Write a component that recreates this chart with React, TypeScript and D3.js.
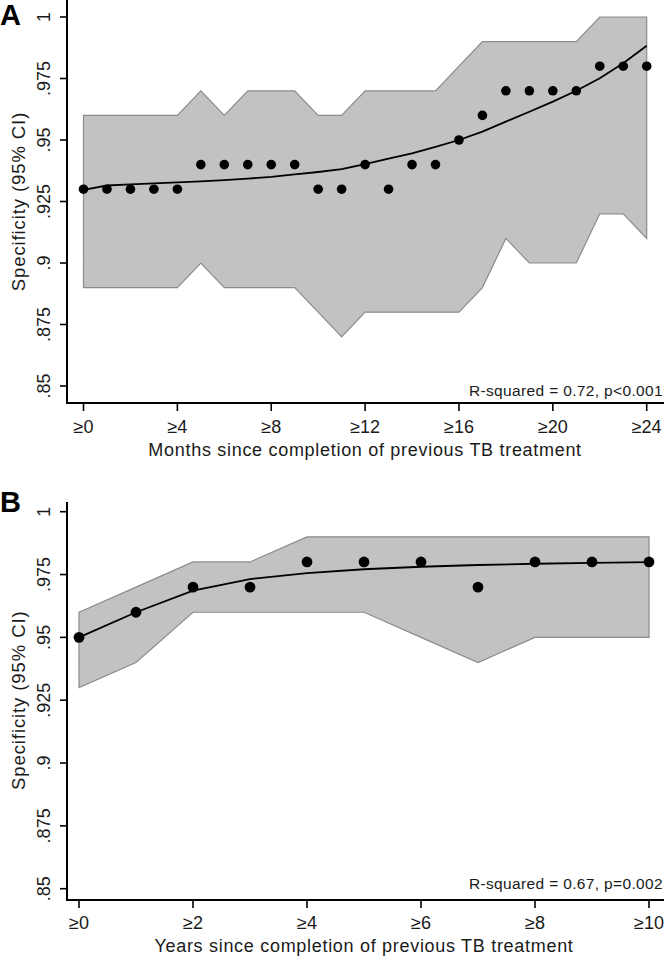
import React from "react";
import * as d3 from "d3";

// ---------- Panel A data (months) ----------
const monthsA = d3.range(0, 25);
const pointsA = [0.93, 0.93, 0.93, 0.93, 0.93, 0.94, 0.94, 0.94, 0.94, 0.94, 0.93, 0.93, 0.94, 0.93, 0.94, 0.94, 0.95, 0.96, 0.97, 0.97, 0.97, 0.97, 0.98, 0.98, 0.98];
const upperA = [0.96, 0.96, 0.96, 0.96, 0.96, 0.97, 0.96, 0.97, 0.97, 0.97, 0.96, 0.96, 0.97, 0.97, 0.97, 0.97, 0.98, 0.99, 0.99, 0.99, 0.99, 0.99, 1.0, 1.0, 1.0];
const lowerA = [0.89, 0.89, 0.89, 0.89, 0.89, 0.9, 0.89, 0.89, 0.89, 0.89, 0.88, 0.87, 0.88, 0.88, 0.88, 0.88, 0.88, 0.89, 0.91, 0.9, 0.9, 0.9, 0.92, 0.92, 0.91];
const fitA = [0.9297, 0.9315, 0.932, 0.9324, 0.9328, 0.9332, 0.9337, 0.9343, 0.935, 0.936, 0.937, 0.9382, 0.9402, 0.9424, 0.9446, 0.9472, 0.95, 0.9534, 0.9575, 0.9615, 0.9656, 0.97, 0.9751, 0.9812, 0.9883];
const xTicksA = [0, 4, 8, 12, 16, 20, 24];
const xTitleA = "Months since completion of previous TB treatment";
const statA = "R-squared = 0.72, p<0.001";

// ---------- Panel B data (years) ----------
const yearsB = d3.range(0, 11);
const pointsB = [0.95, 0.96, 0.97, 0.97, 0.98, 0.98, 0.98, 0.97, 0.98, 0.98, 0.98];
const upperB = [0.96, 0.97, 0.98, 0.98, 0.99, 0.99, 0.99, 0.99, 0.99, 0.99, 0.99];
const lowerB = [0.93, 0.94, 0.96, 0.96, 0.96, 0.96, 0.95, 0.94, 0.95, 0.95, 0.95];
const fitB = [0.95, 0.96, 0.9686, 0.9732, 0.9756, 0.9771, 0.9781, 0.9788, 0.9793, 0.9796, 0.9799];
const xTicksB = [0, 2, 4, 6, 8, 10];
const xTitleB = "Years since completion of previous TB treatment";
const statB = "R-squared = 0.67, p=0.002";

const yTicks = [0.85, 0.875, 0.9, 0.925, 0.95, 0.975, 1];
const yTitle = "Specificity (95% CI)";

const FONT = "'Liberation Sans', Arial, Helvetica, sans-serif";
const TXT = "#1a1a1a";

const fmtY = (v: number) => (v === 1 ? "1" : String(v).replace(/^0/, ""));

type PanelProps = {
  label: string;
  xs: number[];
  pts: number[];
  up: number[];
  lo: number[];
  fit: number[];
  xTicks: number[];
  xTitle: string;
  stat: string;
  xRange: [number, number];
  yRange: [number, number];
  axisTop: number;
  axisY: number;
  labelY: number;
  tickLabelY: number;
  titleY: number;
  statY: number;
  dotR: number;
};

function Panel(p: PanelProps) {
  const x = d3.scaleLinear().domain([p.xs[0], p.xs[p.xs.length - 1]]).range(p.xRange);
  const y = d3.scaleLinear().domain([0.85, 1]).range(p.yRange);
  const idx = p.xs.map((_, i) => i);
  const area = d3
    .area<number>()
    .x((i) => x(p.xs[i]))
    .y0((i) => y(p.lo[i]))
    .y1((i) => y(p.up[i]));
  const line = d3
    .line<number>()
    .x((i) => x(p.xs[i]))
    .y((i) => y(p.fit[i]));
  const axisX = 67;
  const yMid = (p.yRange[0] + p.yRange[1]) / 2;
  const xMid = (p.xRange[0] + p.xRange[1]) / 2;
  return (
    <g>
      <text x={0} y={p.labelY} fontFamily={FONT} fontWeight="bold" fontSize={29}>
        {p.label}
      </text>
      <path d={area(idx) || ""} fill="#c2c2c2" stroke="#8c8c8c" strokeWidth={1.2} strokeLinejoin="miter" />
      <path d={line(idx) || ""} fill="none" stroke="#000" strokeWidth={1.8} />
      {idx.map((i) => (
        <circle key={i} cx={x(p.xs[i])} cy={y(p.pts[i])} r={p.dotR} fill="#000" />
      ))}
      {/* y axis */}
      <line x1={axisX} x2={axisX} y1={p.axisTop} y2={p.axisY + 1} stroke="#000" strokeWidth={2} />
      {yTicks.map((t) => (
        <g key={t}>
          <line x1={axisX - 7} x2={axisX} y1={y(t)} y2={y(t)} stroke="#000" strokeWidth={1.6} />
          <text
            transform={`translate(${44},${y(t)}) rotate(-90)`}
            textAnchor="middle"
            dominantBaseline="central"
            fontFamily={FONT}
            fontSize={18}
            fill={TXT}
          >
            {fmtY(t)}
          </text>
        </g>
      ))}
      <text
        transform={`translate(${18},${yMid}) rotate(-90)`}
        textAnchor="middle"
        dominantBaseline="central"
        fontFamily={FONT}
        fontSize={18.5}
        letterSpacing={0.9}
        fill={TXT}
      >
        {yTitle}
      </text>
      {/* x axis */}
      <line x1={axisX - 1} x2={664} y1={p.axisY} y2={p.axisY} stroke="#000" strokeWidth={2} />
      {p.xTicks.map((t) => (
        <g key={t}>
          <line x1={x(t)} x2={x(t)} y1={p.axisY} y2={p.axisY + 8} stroke="#000" strokeWidth={1.6} />
          <text
            x={x(t)}
            y={p.tickLabelY}
            textAnchor="middle"
            dominantBaseline="central"
            fontFamily={FONT}
            fontSize={18}
            fill={TXT}
          >
            {"≥" + t}
          </text>
        </g>
      ))}
      <text
        x={xMid}
        y={p.titleY}
        textAnchor="middle"
        dominantBaseline="central"
        fontFamily={FONT}
        fontSize={18}
        letterSpacing={0.7}
        fill={TXT}
      >
        {p.xTitle}
      </text>
      <text
        x={663}
        y={p.statY}
        textAnchor="end"
        dominantBaseline="central"
        fontFamily={FONT}
        fontSize={15.5}
        letterSpacing={0.35}
        fill={TXT}
      >
        {p.stat}
      </text>
    </g>
  );
}

export default function App() {
  return (
    <svg
      width={666}
      height={957}
      style={{ position: "absolute", left: 0, top: 0, background: "#fff" }}
    >
      <rect x={0} y={0} width={666} height={957} fill="#fff" />
      <Panel
        label="A"
        xs={monthsA}
        pts={pointsA}
        up={upperA}
        lo={lowerA}
        fit={fitA}
        xTicks={xTicksA}
        xTitle={xTitleA}
        stat={statA}
        xRange={[83.5, 646.7]}
        yRange={[386, 17]}
        axisTop={0}
        axisY={403}
        labelY={25}
        tickLabelY={427}
        titleY={450}
        statY={390}
        dotR={4.8}
      />
      <Panel
        label="B"
        xs={yearsB}
        pts={pointsB}
        up={upperB}
        lo={lowerB}
        fit={fitB}
        xTicks={xTicksB}
        xTitle={xTitleB}
        stat={statB}
        xRange={[79, 649]}
        yRange={[888.7, 511.7]}
        axisTop={502}
        axisY={900}
        labelY={512}
        tickLabelY={923}
        titleY={946}
        statY={883}
        dotR={5.4}
      />
    </svg>
  );
}
